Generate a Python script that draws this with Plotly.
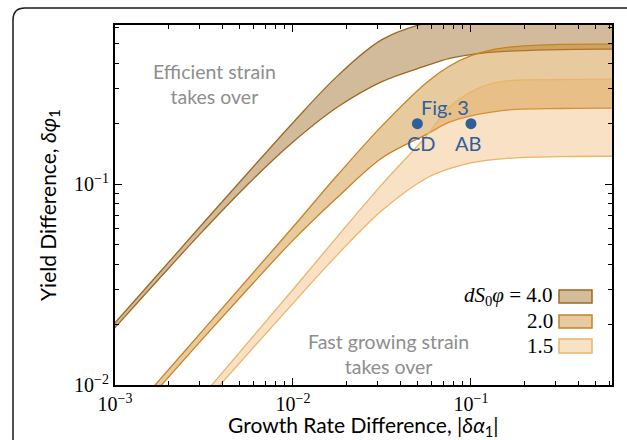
import math
import plotly.graph_objects as go

# ---------------- data ----------------
x_grid = [0.0008, 0.001, 0.00178, 0.00316, 0.00562, 0.01, 0.0178, 0.0316,
          0.0562, 0.075, 0.1, 0.133, 0.178, 0.316, 0.562, 0.8]

# dS0*phi = 4.0 band
d40_upper = [0.01633, 0.0204, 0.0363, 0.0646, 0.1146, 0.2023, 0.346, 0.524,
             0.635, 0.658, 0.668, 0.672, 0.674, 0.675, 0.675, 0.675]
d40_lower = [0.0155, 0.0193, 0.0340, 0.0592, 0.1005, 0.162, 0.242, 0.324,
             0.389, 0.422, 0.442, 0.454, 0.461, 0.468, 0.470, 0.470]
# dS0*phi = 2.0 band
d20_upper = [0.0047, 0.00589, 0.0106, 0.01897, 0.0340, 0.0612, 0.111, 0.195,
             0.320, 0.385, 0.436, 0.468, 0.484, 0.496, 0.498, 0.498]
d20_lower = [0.0045, 0.0055, 0.00975, 0.01726, 0.0303, 0.0525, 0.0860, 0.135,
             0.177, 0.203, 0.219, 0.229, 0.2355, 0.238, 0.239, 0.239]
# dS0*phi = 1.5 band
d15_upper = [0.0025, 0.00282, 0.00507, 0.00902, 0.0164, 0.0299, 0.0550, 0.0998,
             0.174, 0.240, 0.288, 0.318, 0.329, 0.332, 0.333, 0.333]
d15_lower = [0.00206, 0.00257, 0.00457, 0.00813, 0.01442, 0.0255, 0.0446, 0.0739,
             0.107, 0.119, 0.1276, 0.1324, 0.1352, 0.1371, 0.1377, 0.1377]

band_labels = ["4.0", "2.0", "1.5"]

points_x = [0.05, 0.1]
points_y = [0.2, 0.2]
points_labels = ["CD", "AB"]

x_ticks = [1e-3, 1e-2, 1e-1]
x_ticktext = ["10<sup>\u22123</sup>", "10<sup>\u22122</sup>", "10<sup>\u22121</sup>"]
y_ticks = [1e-2, 1e-1]
y_ticktext = ["10<sup>\u22122</sup>", "10<sup>\u22121</sup>"]
x_minor = [k * 10 ** e for e in (-3, -2, -1) for k in range(2, 10) if k * 10 ** e < 0.62]
y_minor = [k * 10 ** e for e in (-2, -1) for k in range(2, 10) if k * 10 ** e < 0.62]

# ---------------- styles ----------------
line_cols = ["rgb(158,104,34)", "rgb(200,130,36)", "rgb(236,180,105)"]
fill_cols = ["rgba(160,110,40,0.47)", "rgba(200,131,30,0.43)", "rgba(235,172,92,0.36)"]
box_fills = ["rgb(210,188,153)", "rgb(230,203,160)", "rgb(246,227,197)"]
blue = "#2f5e9c"
SANS = "Lato"
SERIF = "Liberation Serif"

fig = go.Figure()
bands = [(d40_lower, d40_upper), (d20_lower, d20_upper), (d15_lower, d15_upper)]
for (lo, up), lc, fc in zip(bands, line_cols, fill_cols):
    fig.add_trace(go.Scatter(x=x_grid, y=lo, mode="lines",
                             line=dict(color=lc, width=1.3, shape="spline"),
                             showlegend=False, hoverinfo="skip"))
    fig.add_trace(go.Scatter(x=x_grid, y=up, mode="lines", fill="tonexty",
                             fillcolor=fc,
                             line=dict(color=lc, width=1.3, shape="spline"),
                             showlegend=False, hoverinfo="skip"))

fig.add_trace(go.Scatter(x=points_x, y=points_y, mode="markers",
                         marker=dict(color=blue, size=11),
                         showlegend=False, hoverinfo="skip"))

W, H = 627, 440
L, R, T, B = 115, 15, 25, 55
pw, ph = W - L - R, H - T - B


def px(x):
    return (x - L) / pw


def py(y):
    return (H - B - y) / ph


axis_common = dict(type="log", showline=True, linecolor="black", linewidth=2,
                   mirror="ticks", ticks="inside", ticklen=7, tickwidth=1.3,
                   tickcolor="black", showgrid=False, zeroline=False,
                   tickfont=dict(family=SERIF, size=20, color="black"))

fig.update_xaxes(range=[-3, -0.2076], tickvals=x_ticks, ticktext=x_ticktext,
                 minor=dict(tickvals=x_minor, ticks="inside", ticklen=4,
                            tickcolor="black", tickwidth=1, showgrid=False),
                 **axis_common)
fig.update_yaxes(range=[-2, -0.2076], tickvals=y_ticks, ticktext=y_ticktext,
                 minor=dict(tickvals=y_minor, ticks="inside", ticklen=4,
                            tickcolor="black", tickwidth=1, showgrid=False),
                 **axis_common)


def note(xp, yp, text, size, color, family=SANS, **kw):
    d = dict(x=px(xp), y=py(yp), xref="paper", yref="paper", text=text,
             showarrow=False, xanchor="center", yanchor="middle",
             font=dict(family=family, size=size, color=color))
    d.update(kw)
    return d


annotations = []
annotations.append(note(214, 84, "Efficient strain<br>takes over", 19.5, "#8e8e8e",
                        align="center"))
annotations.append(note(388, 354, "Fast growing strain<br>takes over", 19.5, "#8e8e8e",
                        align="center"))
annotations.append(note(445, 107, "Fig. 3", 20, blue))
for xv, yv, lab, dx in zip(points_x, points_y, points_labels, [4, -3]):
    annotations.append(dict(x=math.log10(xv), y=math.log10(yv), xref="x", yref="y",
                            text=lab, showarrow=False, xshift=dx, yshift=-19,
                            xanchor="center", yanchor="middle",
                            font=dict(family=SANS, size=20, color=blue)))
annotations.append(note(363, 426, "Growth Rate Difference, |<i>\u03b4\u03b1</i><sub>1</sub>|",
                        21, "black"))
annotations.append(note(49, 205, "Yield Difference, <i>\u03b4\u03c6</i><sub>1</sub>",
                        21, "black", textangle=-90))

legend_text_y = [296, 321, 346]
legend_box_y = [(290, 303), (315, 328), (339, 353)]
legend_texts = ["<i>dS</i><sub>0</sub><i>\u03c6</i> = " + band_labels[0]] + band_labels[1:]
shapes = []
for i in range(3):
    annotations.append(note(555, legend_text_y[i], legend_texts[i], 21, "black",
                            family=SERIF, xanchor="right"))
    y0, y1 = legend_box_y[i]
    shapes.append(dict(type="rect", xref="paper", yref="paper",
                       x0=px(559), x1=px(592), y0=py(y1), y1=py(y0),
                       fillcolor=box_fills[i], line=dict(color=line_cols[i], width=1.5)))

# outer rounded frame
path = "M {a},{b} L {a},{c} Q {a},{d} {e},{d} L {f},{d}".format(
    a=px(13), b=py(460), c=py(20), d=py(8), e=px(25), f=px(660))
shapes.append(dict(type="path", xref="paper", yref="paper", path=path,
                   line=dict(color="#1a1a1a", width=1.5)))

fig.update_layout(width=W, height=H, margin=dict(l=L, r=R, t=T, b=B),
                  paper_bgcolor="white", plot_bgcolor="white",
                  annotations=annotations, shapes=shapes, showlegend=False)

fig.write_html("out.html")
